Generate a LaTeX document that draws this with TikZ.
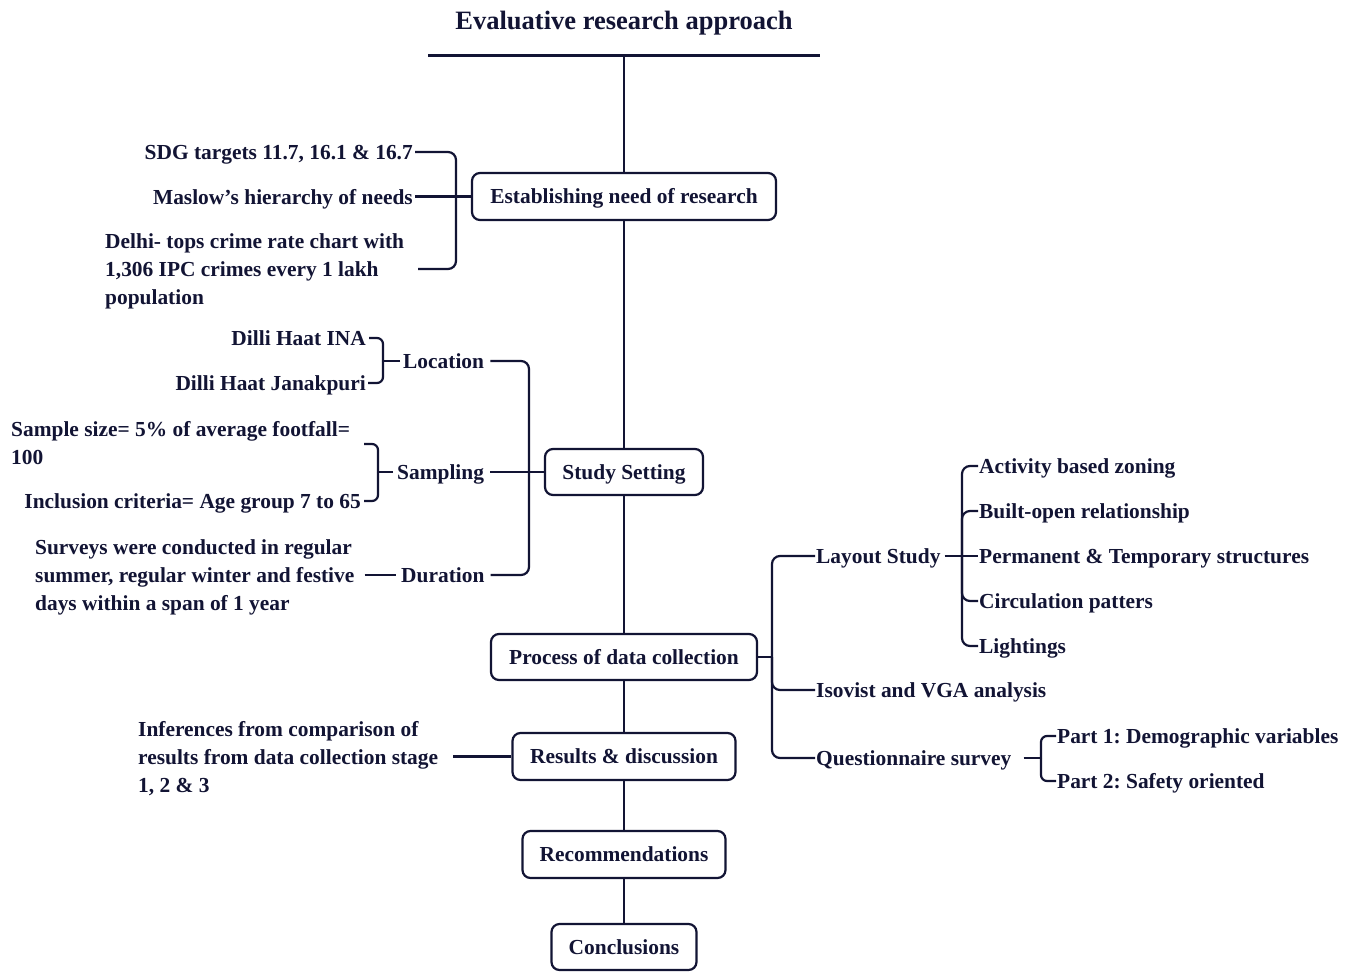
\documentclass[tikz,border=0pt]{standalone}
\usepackage{fontspec}
\setmainfont{Liberation Serif}
\frenchspacing
\definecolor{ink}{RGB}{18,20,52}
\newcommand{\lblfont}{\fontsize{21.4}{28}\selectfont\bfseries}
\newcommand{\ttlfont}{\fontsize{26.5}{32}\selectfont\bfseries}
\begin{document}
\begin{tikzpicture}[x=1pt,y=-1pt,
  lbl/.style={inner sep=0pt, font=\lblfont, text=ink, text height=14.3pt, text depth=0pt},
  ml/.style={inner sep=0pt, font=\lblfont, text=ink, align=left, anchor=north west},
  stagebox/.style={lbl, draw=ink, line width=2.2pt, rounded corners=8pt, fill=white},
  conn/.style={draw=ink, line width=2.2pt},
  brk/.style={conn, rounded corners=8pt},
  sbrk/.style={conn, rounded corners=6pt}]
\useasboundingbox (0,0) rectangle (1356,972);
\fill[white] (0,0) rectangle (1356,972);

% title
\node[lbl, font=\ttlfont, text height=17.5pt] (title) at (624,21) {Evaluative research approach};
\coordinate (tl) at (428,55);
\coordinate (tr) at (820,55);
\coordinate (top) at (624,55);
\draw[draw=ink, line width=3pt] (tl) -- (tr);

% main stages
\node[stagebox, minimum width=304pt, minimum height=47pt] (need) at (624,196.5) {Establishing need of research};
\node[stagebox, minimum width=158pt, minimum height=46pt] (study) at (624,472) {Study Setting};
\node[stagebox, minimum width=266pt, minimum height=46pt] (proc) at (624,657) {Process of data collection};
\node[stagebox, minimum width=223pt, minimum height=47pt] (res) at (624,756.5) {Results \& discussion};
\node[stagebox, minimum width=203pt, minimum height=47pt] (rec) at (624,854.5) {Recommendations};
\node[stagebox, minimum width=145pt, minimum height=46pt] (concl) at (624,947) {Conclusions};

\draw[conn] (top) -- (need.north);
\draw[conn] (need.south) -- (study.north);
\draw[conn] (study.south) -- (proc.north);
\draw[conn] (proc.south) -- (res.north);
\draw[conn] (res.south) -- (rec.north);
\draw[conn] (rec.south) -- (concl.north);

% need of research
\node[lbl, anchor=east] (sdg) at (413,152) {SDG targets 11.7, 16.1 \& 16.7};
\node[lbl, anchor=east] (maslow) at (413,197) {Maslow’s hierarchy of needs};
\node[ml] (delhi) at (105,233.3) {Delhi- tops crime rate chart with\\1,306 IPC crimes every 1 lakh\\population};
\coordinate (j1) at (456,196.5);
\coordinate (d1) at (418,269);
\draw[conn] (need.west) -- (j1);
\draw[brk] (j1) |- ([xshift=2pt]sdg.east);
\draw[conn] (j1) -- ([xshift=2pt]maslow.east |- j1);
\draw[brk] (j1) |- (d1);

% study setting
\node[lbl, anchor=west] (loc) at (403,361) {Location};
\node[lbl, anchor=west] (samp) at (397,472) {Sampling};
\node[lbl, anchor=west] (dur) at (401,575) {Duration};
\coordinate (j2) at (529,472);
\draw[conn] (study.west) -- (j2);
\draw[brk] (j2) |- ([xshift=6pt]loc.east);
\draw[conn] (j2) -- ([xshift=6pt]samp.east);
\draw[brk] (j2) |- ([xshift=6pt]dur.east);

\node[lbl, anchor=east] (ina) at (366,338) {Dilli Haat INA};
\node[lbl, anchor=east] (jan) at (366,383) {Dilli Haat Janakpuri};
\coordinate (j3) at (383,361);
\draw[conn] ([xshift=-3pt]loc.west) -- (j3);
\draw[sbrk] (j3) |- ([xshift=3pt]ina.east);
\draw[sbrk] (j3) |- ([xshift=2pt]jan.east);

\node[ml] (ssize) at (11,421.3) {Sample size= 5\% of average footfall=\\100};
\node[lbl, anchor=east] (incl) at (361,501) {Inclusion criteria= Age group 7 to 65};
\coordinate (j4) at (378,472);
\coordinate (s1) at (364,444);
\draw[conn] ([xshift=-4pt]samp.west) -- (j4);
\draw[sbrk] (j4) |- (s1);
\draw[sbrk] (j4) |- ([xshift=3pt]incl.east);

\node[ml] (surv) at (35,539.3) {Surveys were conducted in regular\\summer, regular winter and festive\\days within a span of 1 year};
\draw[conn] ([xshift=10pt]surv.east |- dur.west) -- ([xshift=-5pt]dur.west);

% process of data collection
\node[lbl, anchor=west] (lay) at (816,556) {Layout Study};
\node[lbl, anchor=west] (iso) at (816,690) {Isovist and VGA analysis};
\node[lbl, anchor=west] (quest) at (816,758) {Questionnaire survey};
\coordinate (j5) at (772,657);
\draw[conn] (proc.east) -- (j5);
\draw[brk] (j5) |- ([xshift=-1pt]lay.west);
\draw[brk] (j5) |- ([xshift=-1pt]iso.west);
\draw[brk] (j5) |- ([xshift=-1pt]quest.west);

\node[lbl, anchor=west] (act) at (979,466) {Activity based zoning};
\node[lbl, anchor=west] (built) at (979,511) {Built-open relationship};
\node[lbl, anchor=west] (perm) at (979,556) {Permanent \& Temporary structures};
\node[lbl, anchor=west] (circ) at (979,601) {Circulation patters};
\node[lbl, anchor=west] (light) at (979,646) {Lightings};
\coordinate (j6) at (962,556);
\draw[conn] ([xshift=4pt]lay.east) -- (j6);
\draw[brk] (j6) |- ([xshift=-1pt]act.west);
\draw[brk] (j6) |- ([xshift=-1pt]built.west);
\draw[conn] (j6) -- ([xshift=-1pt]perm.west);
\draw[brk] (j6) |- ([xshift=-1pt]circ.west);
\draw[brk] (j6) |- ([xshift=-1pt]light.west);

\node[lbl, anchor=west] (p1) at (1057,736) {Part 1: Demographic variables};
\node[lbl, anchor=west] (p2) at (1057,781) {Part 2: Safety oriented};
\coordinate (j7) at (1041,758);
\draw[conn] ([xshift=12pt]quest.east) -- (j7);
\draw[sbrk] (j7) |- ([xshift=-1pt]p1.west);
\draw[sbrk] (j7) |- ([xshift=-1pt]p2.west);

% results
\node[ml] (inf) at (138,721.3) {Inferences from comparison of\\results from data collection stage\\1, 2 \& 3};
\draw[conn] ([xshift=15pt]inf.east |- res.west) -- (res.west);
\end{tikzpicture}
\end{document}
